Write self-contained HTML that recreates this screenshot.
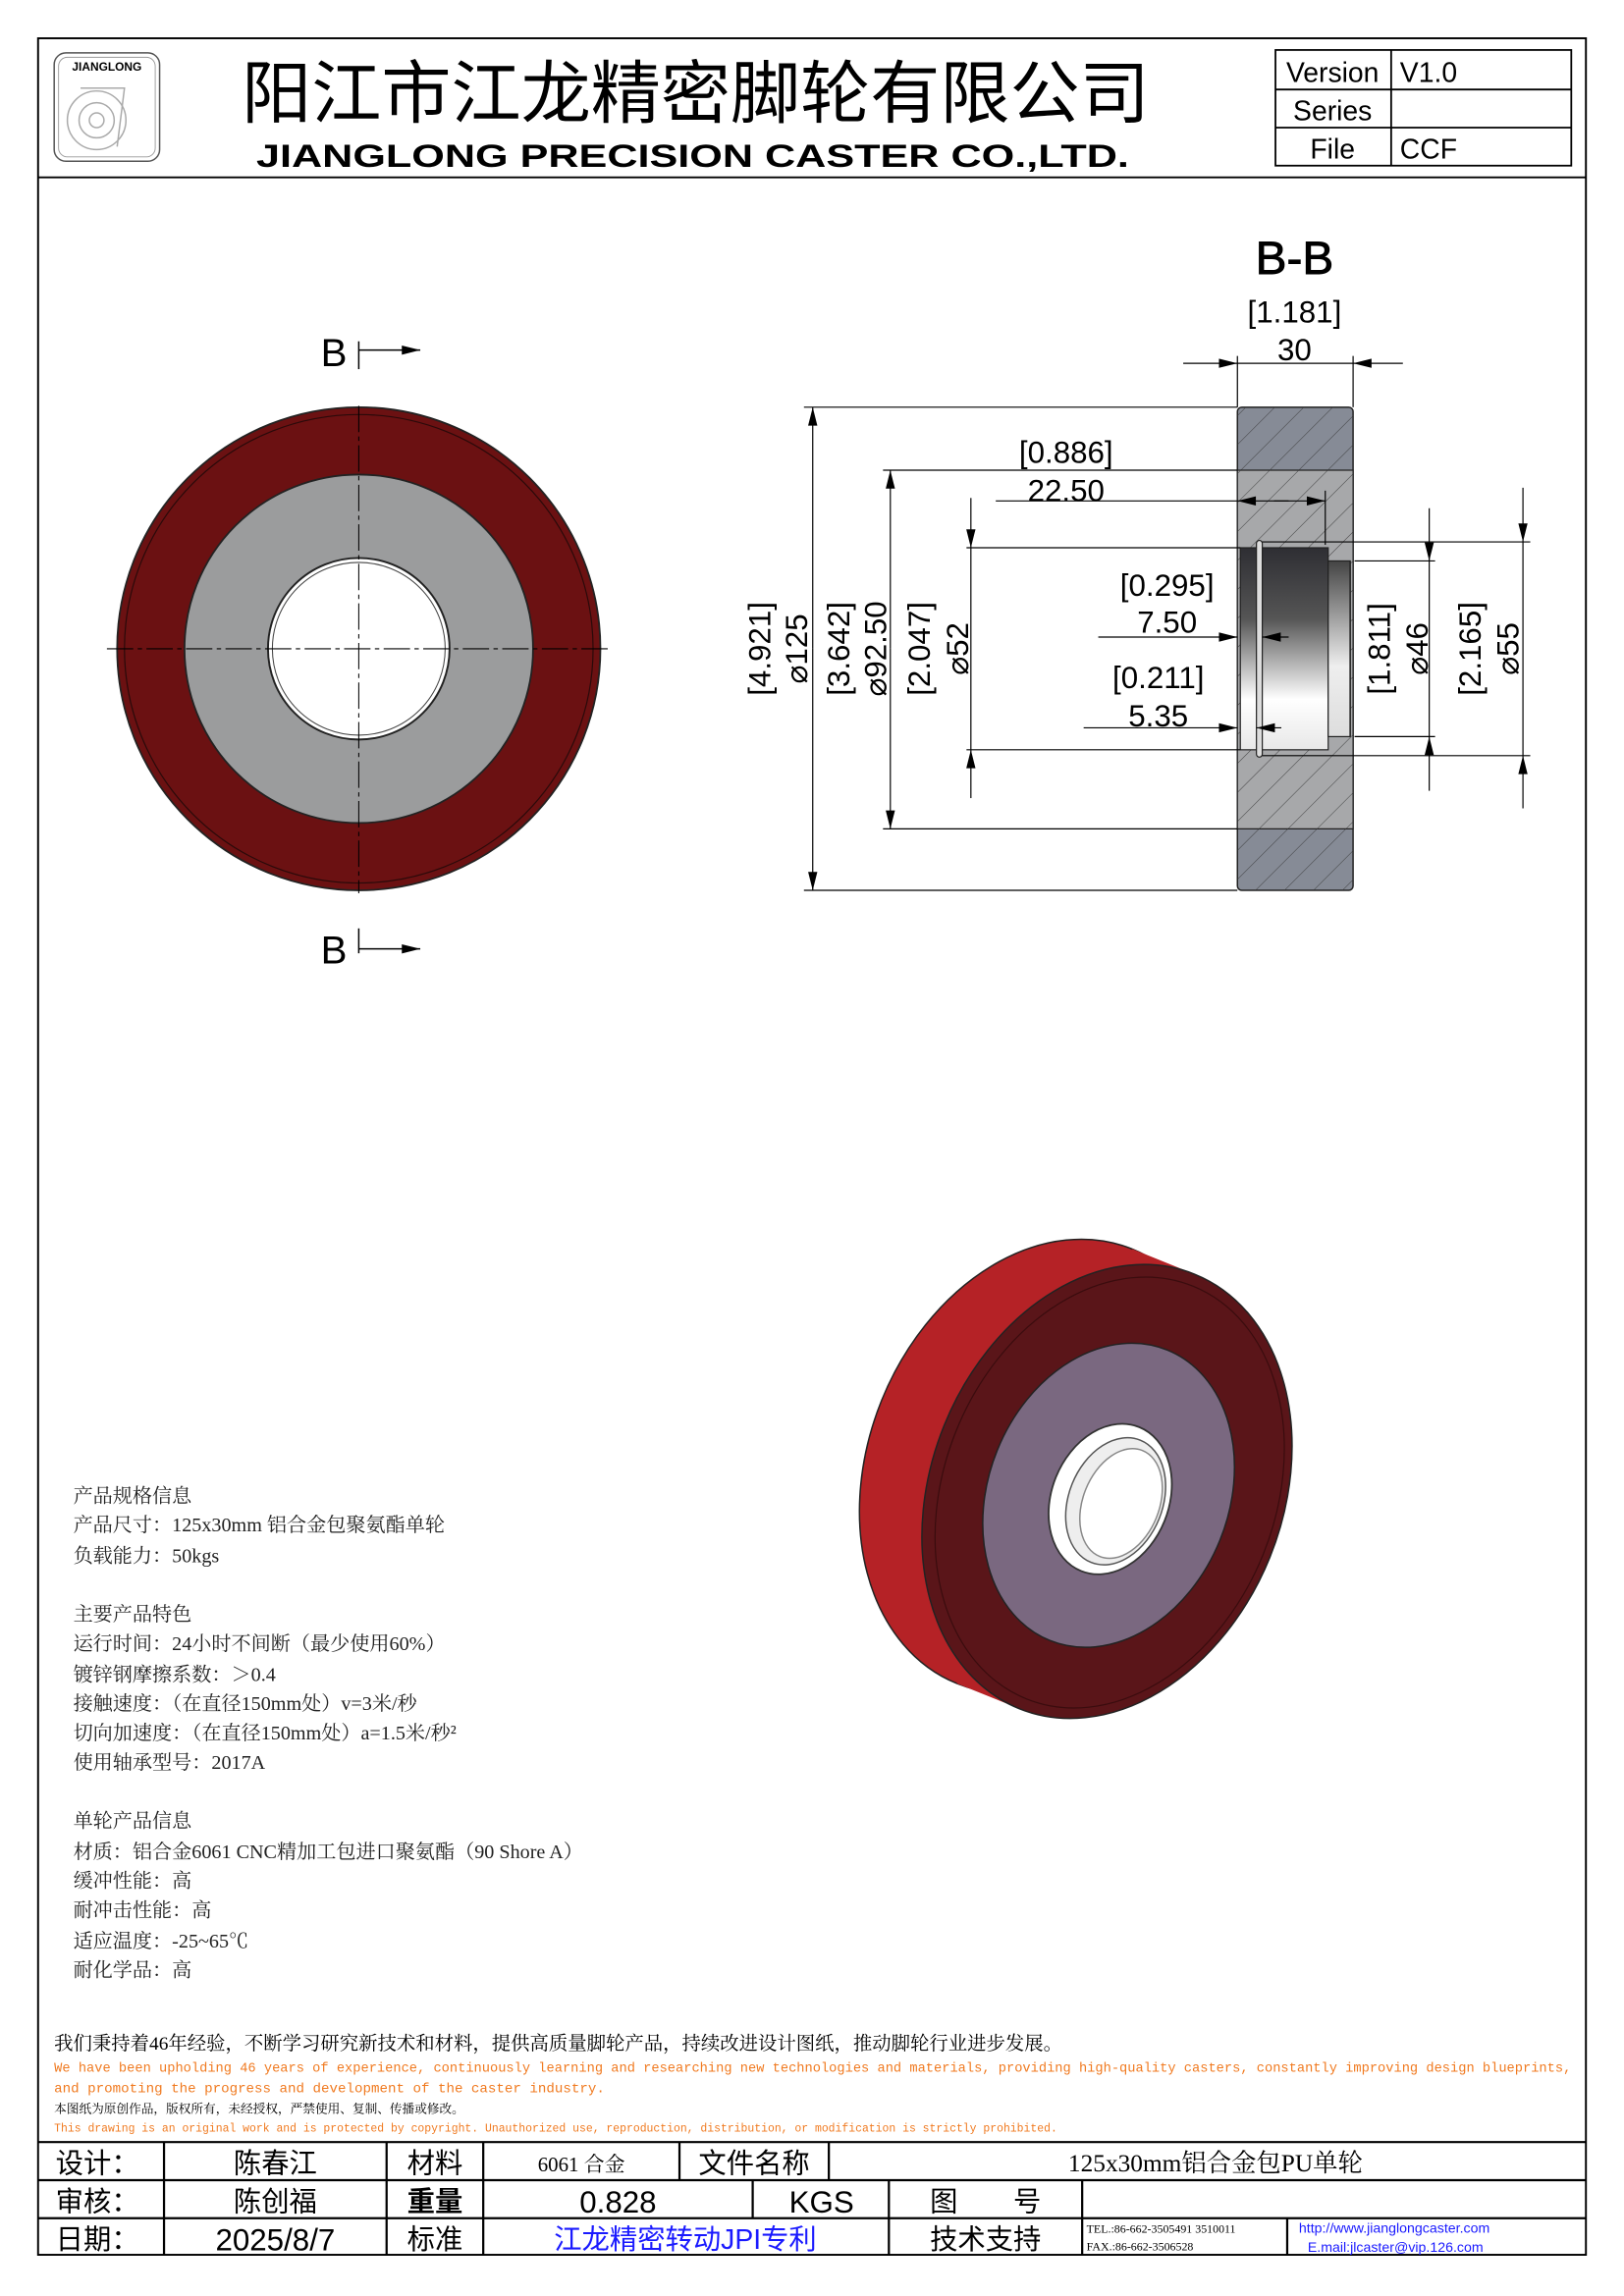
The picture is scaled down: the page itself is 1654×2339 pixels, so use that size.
<!DOCTYPE html>
<html><head><meta charset="utf-8">
<style>
html,body{margin:0;padding:0;background:#fff;}
svg{display:block;}
text{font-family:"Liberation Sans","Noto Sans CJK SC",sans-serif;}
text.s,.s text{font-family:"Liberation Serif","Noto Serif CJK SC",serif;}
text.m{font-family:"Liberation Mono","Noto Sans CJK SC",monospace;}
</style></head><body>
<svg width="1654" height="2339" viewBox="0 0 1109 1568" xmlns="http://www.w3.org/2000/svg">
<defs>
<pattern id="hat" patternUnits="userSpaceOnUse" width="14" height="14" patternTransform="rotate(45)">
<line x1="0" y1="0" x2="0" y2="14" stroke="#333" stroke-width="0.6"/>
</pattern>
<linearGradient id="bore" x1="0" y1="0" x2="0" y2="1">
<stop offset="0" stop-color="#2e2e33"/><stop offset="0.35" stop-color="#555"/><stop offset="0.75" stop-color="#fff"/><stop offset="1" stop-color="#e8e8e8"/>
</linearGradient>
<linearGradient id="bore2" x1="0" y1="0" x2="0" y2="1">
<stop offset="0" stop-color="#444"/><stop offset="0.6" stop-color="#eee"/><stop offset="1" stop-color="#ddd"/>
</linearGradient>
<marker id="a" viewBox="0 0 14 10" refX="14" refY="5" markerWidth="13" markerHeight="9" markerUnits="userSpaceOnUse" orient="auto"><path d="M0,1.5 L14,5 L0,8.5z" fill="#000"/></marker>
</defs>
<!-- frame -->
<rect x="26" y="26" width="1057" height="1514" fill="none" stroke="#000" stroke-width="1.3"/>
<line x1="26" y1="121" x2="1083" y2="121" stroke="#000" stroke-width="1.3"/>
<!-- logo -->
<rect x="37" y="36" width="72" height="74" rx="8" fill="none" stroke="#555" stroke-width="1"/>
<rect x="40" y="39" width="66" height="68" rx="6" fill="none" stroke="#999" stroke-width="0.6"/>
<text x="73" y="48" font-size="8" font-weight="bold" text-anchor="middle">JIANGLONG</text>
<circle cx="66" cy="82" r="20" fill="none" stroke="#aaa"/><circle cx="66" cy="82" r="12" fill="none" stroke="#aaa"/><circle cx="66" cy="82" r="5" fill="none" stroke="#aaa"/>
<path d="M55,60 L85,60 L80,100" fill="none" stroke="#aaa"/>
<!-- title -->
<text x="475" y="80" font-size="47" text-anchor="middle" textLength="620" lengthAdjust="spacingAndGlyphs">阳江市江龙精密脚轮有限公司</text>
<text x="473" y="114" font-size="22" font-weight="bold" text-anchor="middle" textLength="596" lengthAdjust="spacingAndGlyphs">JIANGLONG PRECISION CASTER CO.,LTD.</text>
<!-- version table -->
<g stroke="#000" stroke-width="1.2" fill="none">
<rect x="871" y="34" width="202" height="79"/>
<line x1="871" y1="61" x2="1073" y2="61"/><line x1="871" y1="87" x2="1073" y2="87"/>
<line x1="950" y1="34" x2="950" y2="113"/>
</g>
<text x="910" y="56" font-size="19" text-anchor="middle">Version</text>
<text x="956" y="56" font-size="19">V1.0</text>
<text x="910" y="82" font-size="19" text-anchor="middle">Series</text>
<text x="910" y="108" font-size="19" text-anchor="middle">File</text>
<text x="956" y="108" font-size="19">CCF</text>

<!-- front view -->
<circle cx="245" cy="443" r="165" fill="#6b1112" stroke="#222" stroke-width="1.2"/>
<circle cx="245" cy="443" r="160" fill="none" stroke="#2a0a0a" stroke-width="0.8"/>
<circle cx="245" cy="443" r="119" fill="#9b9c9d" stroke="#222" stroke-width="1.2"/>
<circle cx="245" cy="443" r="62" fill="#fff" stroke="#222" stroke-width="1.3"/>
<circle cx="245" cy="443" r="59" fill="none" stroke="#444" stroke-width="0.7"/>
<g stroke="#000" stroke-width="0.7" stroke-dasharray="18,3,3,3">
<line x1="73" y1="443" x2="417" y2="443"/><line x1="245" y1="277" x2="245" y2="610"/>
</g>
<text x="228" y="250" font-size="27" text-anchor="middle">B</text>
<line x1="245" y1="233" x2="245" y2="252" stroke="#000"/>
<line x1="245" y1="239" x2="287" y2="239" stroke="#000" marker-end="url(#a)"/>
<text x="228" y="658" font-size="27" text-anchor="middle">B</text>
<line x1="245" y1="634" x2="245" y2="651" stroke="#000"/>
<line x1="245" y1="648" x2="287" y2="648" stroke="#000" marker-end="url(#a)"/>

<!-- section -->
<text x="884" y="187" font-size="32" text-anchor="middle" stroke="#000" stroke-width="0.6">B-B</text>
<text x="884" y="220" font-size="21" text-anchor="middle">[1.181]</text>
<text x="884" y="246" font-size="21" text-anchor="middle">30</text>
<g stroke="#000" stroke-width="0.8" fill="none">
<line x1="845" y1="243" x2="845" y2="278"/><line x1="924" y1="243" x2="924" y2="278"/>
<line x1="808" y1="248" x2="845" y2="248" marker-end="url(#a)"/>
<line x1="958" y1="248" x2="924" y2="248" marker-end="url(#a)"/>
<line x1="845" y1="248" x2="924" y2="248"/>
</g>
<rect x="845" y="278" width="79" height="330" rx="3" fill="#868b96" stroke="#222" stroke-width="1"/>
<path d="M845,321 H924 V566 H845 Z" fill="#a7a8aa" stroke="#222" stroke-width="0.8"/>
<rect x="845" y="278" width="79" height="330" rx="3" fill="url(#hat)"/>
<!-- bore -->
<rect x="847" y="374" width="60" height="138" fill="url(#bore)" stroke="#222" stroke-width="0.8"/>
<rect x="907" y="383" width="15" height="120" fill="url(#bore2)" stroke="#222" stroke-width="0.8"/>
<rect x="858" y="369" width="4" height="148" rx="2" fill="#ddd" stroke="#222" stroke-width="0.8"/>
<line x1="922" y1="383" x2="922" y2="503" stroke="#222"/>
<!-- left dims -->
<g stroke="#000" stroke-width="0.8" fill="none">
<line x1="549" y1="278" x2="845" y2="278"/><line x1="549" y1="608" x2="845" y2="608"/>
<line x1="555" y1="443" x2="555" y2="278" marker-end="url(#a)"/><line x1="555" y1="443" x2="555" y2="608" marker-end="url(#a)"/>
<line x1="603" y1="321" x2="845" y2="321"/><line x1="603" y1="566" x2="845" y2="566"/>
<line x1="608" y1="443" x2="608" y2="321" marker-end="url(#a)"/><line x1="608" y1="443" x2="608" y2="566" marker-end="url(#a)"/>
<line x1="660" y1="374" x2="847" y2="374"/><line x1="660" y1="512" x2="847" y2="512"/>
<line x1="663" y1="340" x2="663" y2="374" marker-end="url(#a)"/><line x1="663" y1="545" x2="663" y2="512" marker-end="url(#a)"/>
<line x1="663" y1="374" x2="663" y2="512"/>
<line x1="680" y1="342" x2="845" y2="342"/>
<line x1="880" y1="342" x2="845" y2="342" marker-end="url(#a)"/>
<line x1="870" y1="342" x2="905" y2="342" marker-end="url(#a)"/>
<line x1="905" y1="335" x2="905" y2="372"/>
<line x1="750" y1="435" x2="845" y2="435" marker-end="url(#a)"/>
<line x1="880" y1="435" x2="862" y2="435" marker-end="url(#a)"/>
<line x1="740" y1="497" x2="845" y2="497" marker-end="url(#a)"/>
<line x1="875" y1="497" x2="858" y2="497" marker-end="url(#a)"/>
<!-- right dims -->
<line x1="925" y1="383" x2="980" y2="383"/><line x1="925" y1="503" x2="980" y2="503"/>
<line x1="976" y1="347" x2="976" y2="383" marker-end="url(#a)"/><line x1="976" y1="540" x2="976" y2="503" marker-end="url(#a)"/>
<line x1="976" y1="383" x2="976" y2="503"/>
<line x1="862" y1="370" x2="1045" y2="370"/><line x1="862" y1="516" x2="1045" y2="516"/>
<line x1="1040" y1="333" x2="1040" y2="370" marker-end="url(#a)"/><line x1="1040" y1="552" x2="1040" y2="516" marker-end="url(#a)"/>
<line x1="1040" y1="370" x2="1040" y2="516"/>
</g>
<g font-size="21" text-anchor="middle">
<text transform="translate(526,443) rotate(-90)">[4.921]</text>
<text transform="translate(551,443) rotate(-90)">⌀125</text>
<text transform="translate(580,443) rotate(-90)">[3.642]</text>
<text transform="translate(605,443) rotate(-90)">⌀92.50</text>
<text transform="translate(635,443) rotate(-90)">[2.047]</text>
<text transform="translate(661,443) rotate(-90)">⌀52</text>
<text transform="translate(949,443) rotate(-90)">[1.811]</text>
<text transform="translate(975,443) rotate(-90)">⌀46</text>
<text transform="translate(1011,443) rotate(-90)">[2.165]</text>
<text transform="translate(1037,443) rotate(-90)">⌀55</text>
<text x="728" y="316">[0.886]</text>
<text x="728" y="342">22.50</text>
<text x="797" y="407">[0.295]</text>
<text x="797" y="432">7.50</text>
<text x="791" y="470">[0.211]</text>
<text x="791" y="496">5.35</text>
</g>

<!-- 3D wheel -->
<g transform="rotate(22 740 1010)">
<ellipse cx="712" cy="1012" rx="120" ry="160" fill="#b52226" stroke="#222"/>
<rect x="712" y="852" width="46" height="320" fill="#b52226"/>
<ellipse cx="758" cy="1012" rx="120" ry="160" fill="#5a1519" stroke="#222"/>
<ellipse cx="760" cy="1012" rx="113" ry="152" fill="none" stroke="#3a0c0e" stroke-width="0.8"/>
<ellipse cx="760" cy="1014" rx="82" ry="107" fill="#7a6880" stroke="#222"/>
<ellipse cx="762" cy="1016" rx="40" ry="53" fill="#fff" stroke="#333" stroke-width="1.2"/>
<ellipse cx="766" cy="1016" rx="32" ry="45" fill="#eee" stroke="#555"/>
<ellipse cx="770" cy="1016" rx="26" ry="39" fill="#fff" stroke="#888"/>
</g>

<!-- spec text -->
<g class="s" font-size="13.5" fill="#222">
<text x="50" y="1026">产品规格信息</text>
<text x="50" y="1046">产品尺寸：125x30mm 铝合金包聚氨酯单轮</text>
<text x="50" y="1067">负载能力：50kgs</text>
<text x="50" y="1107">主要产品特色</text>
<text x="50" y="1127">运行时间：24小时不间断（最少使用60%）</text>
<text x="50" y="1148">镀锌钢摩擦系数：＞0.4</text>
<text x="50" y="1168">接触速度：（在直径150mm处）v=3米/秒</text>
<text x="50" y="1188">切向加速度：（在直径150mm处）a=1.5米/秒²</text>
<text x="50" y="1208">使用轴承型号：2017A</text>
<text x="50" y="1248">单轮产品信息</text>
<text x="50" y="1269">材质：铝合金6061 CNC精加工包进口聚氨酯（90 Shore A）</text>
<text x="50" y="1289">缓冲性能：高</text>
<text x="50" y="1309">耐冲击性能：高</text>
<text x="50" y="1330">适应温度：-25~65℃</text>
<text x="50" y="1350">耐化学品：高</text>
</g>
<text class="s" x="37" y="1400" font-size="13">我们秉持着46年经验，不断学习研究新技术和材料，提供高质量脚轮产品，持续改进设计图纸，推动脚轮行业进步发展。</text>
<text class="m" x="37" y="1415" font-size="9.5" fill="#f07a20" textLength="1036" lengthAdjust="spacingAndGlyphs">We have been upholding 46 years of experience, continuously learning and researching new technologies and materials, providing high-quality casters, constantly improving design blueprints,</text>
<text class="m" x="37" y="1429" font-size="9.5" fill="#f07a20">and promoting the progress and development of the caster industry.</text>
<text class="s" x="37" y="1443" font-size="8.5">本图纸为原创作品，版权所有，未经授权，严禁使用、复制、传播或修改。</text>
<text class="m" x="37" y="1456" font-size="8" fill="#f07a20" textLength="685" lengthAdjust="spacingAndGlyphs">This drawing is an original work and is protected by copyright. Unauthorized use, reproduction, distribution, or modification is strictly prohibited.</text>

<!-- bottom table -->
<g stroke="#000" stroke-width="1.5" fill="none">
<line x1="26" y1="1463" x2="1083" y2="1463"/><line x1="26" y1="1489" x2="1083" y2="1489"/><line x1="26" y1="1515" x2="1083" y2="1515"/>
<line x1="112" y1="1463" x2="112" y2="1540"/><line x1="264" y1="1463" x2="264" y2="1540"/><line x1="330" y1="1463" x2="330" y2="1540"/>
<line x1="464" y1="1463" x2="464" y2="1489"/><line x1="566" y1="1463" x2="566" y2="1489"/>
<line x1="514" y1="1489" x2="514" y2="1515"/><line x1="607" y1="1489" x2="607" y2="1540"/><line x1="739" y1="1489" x2="739" y2="1540"/>
<line x1="879" y1="1515" x2="879" y2="1540"/>
</g>
<g font-size="19">
<text x="38" y="1484">设计：</text><text x="38" y="1510">审核：</text><text x="38" y="1536">日期：</text>
<text x="188" y="1484" text-anchor="middle">陈春江</text>
<text x="188" y="1510" text-anchor="middle">陈创福</text>
<text x="188" y="1537" text-anchor="middle" font-size="21">2025/8/7</text>
<text x="297" y="1484" text-anchor="middle">材料</text>
<text x="297" y="1510" text-anchor="middle" font-weight="bold">重量</text>
<text x="297" y="1536" text-anchor="middle">标准</text>
<text x="515" y="1484" text-anchor="middle">文件名称</text>
<text x="422" y="1511" text-anchor="middle" font-size="21">0.828</text>
<text x="561" y="1511" text-anchor="middle" font-size="21">KGS</text>
<text x="673" y="1510" text-anchor="middle">图　　号</text>
<text x="468" y="1536" text-anchor="middle" fill="#1a1aff">江龙精密转动JPI专利</text>
<text x="673" y="1536" text-anchor="middle">技术支持</text>
</g>
<text class="s" x="397" y="1483" font-size="14" text-anchor="middle">6061 合金</text>
<text class="s" x="830" y="1483" font-size="17" text-anchor="middle">125x30mm铝合金包PU单轮</text>
<text class="s" x="742" y="1525" font-size="8">TEL.:86-662-3505491 3510011</text>
<text class="s" x="742" y="1537" font-size="8">FAX.:86-662-3506528</text>
<text x="887" y="1525" font-size="9.5" fill="#1a1aff">http://www.jianglongcaster.com</text>
<text x="893" y="1538" font-size="9.5" fill="#1a1aff">E.mail:jlcaster@vip.126.com</text>
</svg>
</body></html>
